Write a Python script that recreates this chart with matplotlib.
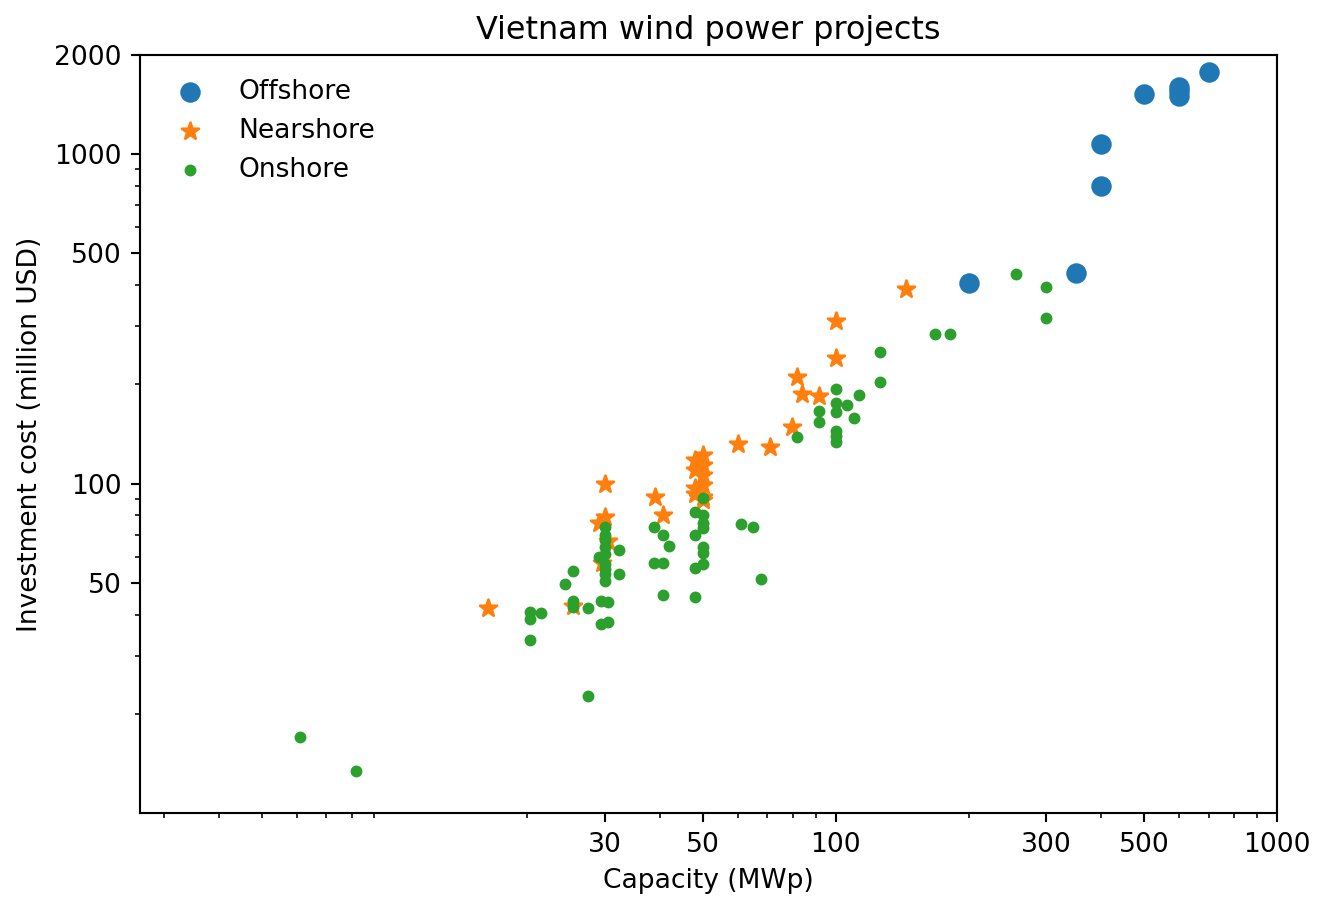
import matplotlib
matplotlib.use('Agg')
import matplotlib.pyplot as plt
from matplotlib.ticker import NullFormatter


# Offshore projects (capacity MWp, investment million USD)
offshoreCapacity = [200, 350, 400, 400, 500, 600, 600, 600, 700]
offshoreCost = [405, 436, 800, 1075, 1525, 1500, 1550, 1600, 1770]

# Nearshore projects
nearshoreCapacity = [16.3, 25.4, 30, 30, 29, 30.5, 29.5, 39, 40.5,
                     48, 48, 48, 48, 50, 50, 50, 50, 50, 50,
                     60, 71, 79.5, 81.5, 84, 91.5, 100, 100, 144]
nearshoreCost = [42, 42.6, 100, 79, 76, 67, 57.5, 91, 80,
                 118, 110, 97, 93, 122, 114, 106, 99, 91, 89,
                 132, 129, 148, 211, 187, 184, 312, 241, 390]

# Onshore projects
onshoreCapacity = [6.1, 8.2,
                   20.3, 20.3, 21.5, 20.3, 24.4, 25.4, 25.4, 25.4, 27.5, 27.5,
                   30, 30, 30, 30, 30, 29, 30, 30, 30, 30, 32.3, 32.3,
                   29.4, 30.4, 29.4, 30.4,
                   38.8, 40.5, 41.8, 38.8, 40.5, 40.5,
                   50, 48, 50, 50, 50, 48, 50, 50, 50, 48, 48,
                   61, 64.8, 67.6,
                   81.5, 91.5, 91.5, 100, 113, 100, 106, 100, 110, 100, 100, 100,
                   126, 126, 168, 181, 256, 300, 300]
onshoreCost = [17.0, 13.4,
               40.7, 38.9, 40.4, 33.4, 49.4, 54.1, 43.9, 42.2, 41.8, 22.7,
               74, 70, 67.6, 64, 61, 60, 57, 55, 53, 50.5, 63, 53,
               44, 43.6, 37.6, 38.1,
               74, 70, 64.8, 57.2, 57.2, 46,
               90.7, 82, 80, 76, 73.5, 70, 64.4, 61.7, 56.8, 55.6, 45.4,
               75.6, 74, 51.2,
               138, 166, 154, 194, 186, 176, 173, 165, 158, 144, 139, 134,
               250, 204, 285, 285, 433, 396, 319]

xTicks = [30, 50, 100, 300, 500, 1000]
yTicks = [50, 100, 500, 1000, 2000]

DPI = 191

fig = plt.figure(figsize=(1326 / DPI, 899 / DPI), dpi=DPI)
ax = fig.add_axes([0.1056, 0.0957, 0.8575, 0.8431])

ax.scatter(offshoreCapacity, offshoreCost, s=45, color='tab:blue', label='Offshore')
ax.scatter(nearshoreCapacity, nearshoreCost, s=45, marker='*', color='tab:orange', label='Nearshore')
ax.scatter(onshoreCapacity, onshoreCost, s=12, color='tab:green', label='Onshore')

ax.set_xscale('log')
ax.set_yscale('log')
ax.set_xlim(2.65, 1000)
ax.set_ylim(10, 2000)

ax.set_xticks(xTicks, labels=[str(t) for t in xTicks])
ax.set_yticks(yTicks, labels=[str(t) for t in yTicks])
ax.xaxis.set_minor_formatter(NullFormatter())
ax.yaxis.set_minor_formatter(NullFormatter())

ax.set_xlabel('Capacity (MWp)')
ax.set_ylabel('Investment cost (million USD)')
ax.set_title('Vietnam wind power projects')
ax.legend(loc='upper left', frameon=False)

fig.savefig('out.png', dpi=DPI)
